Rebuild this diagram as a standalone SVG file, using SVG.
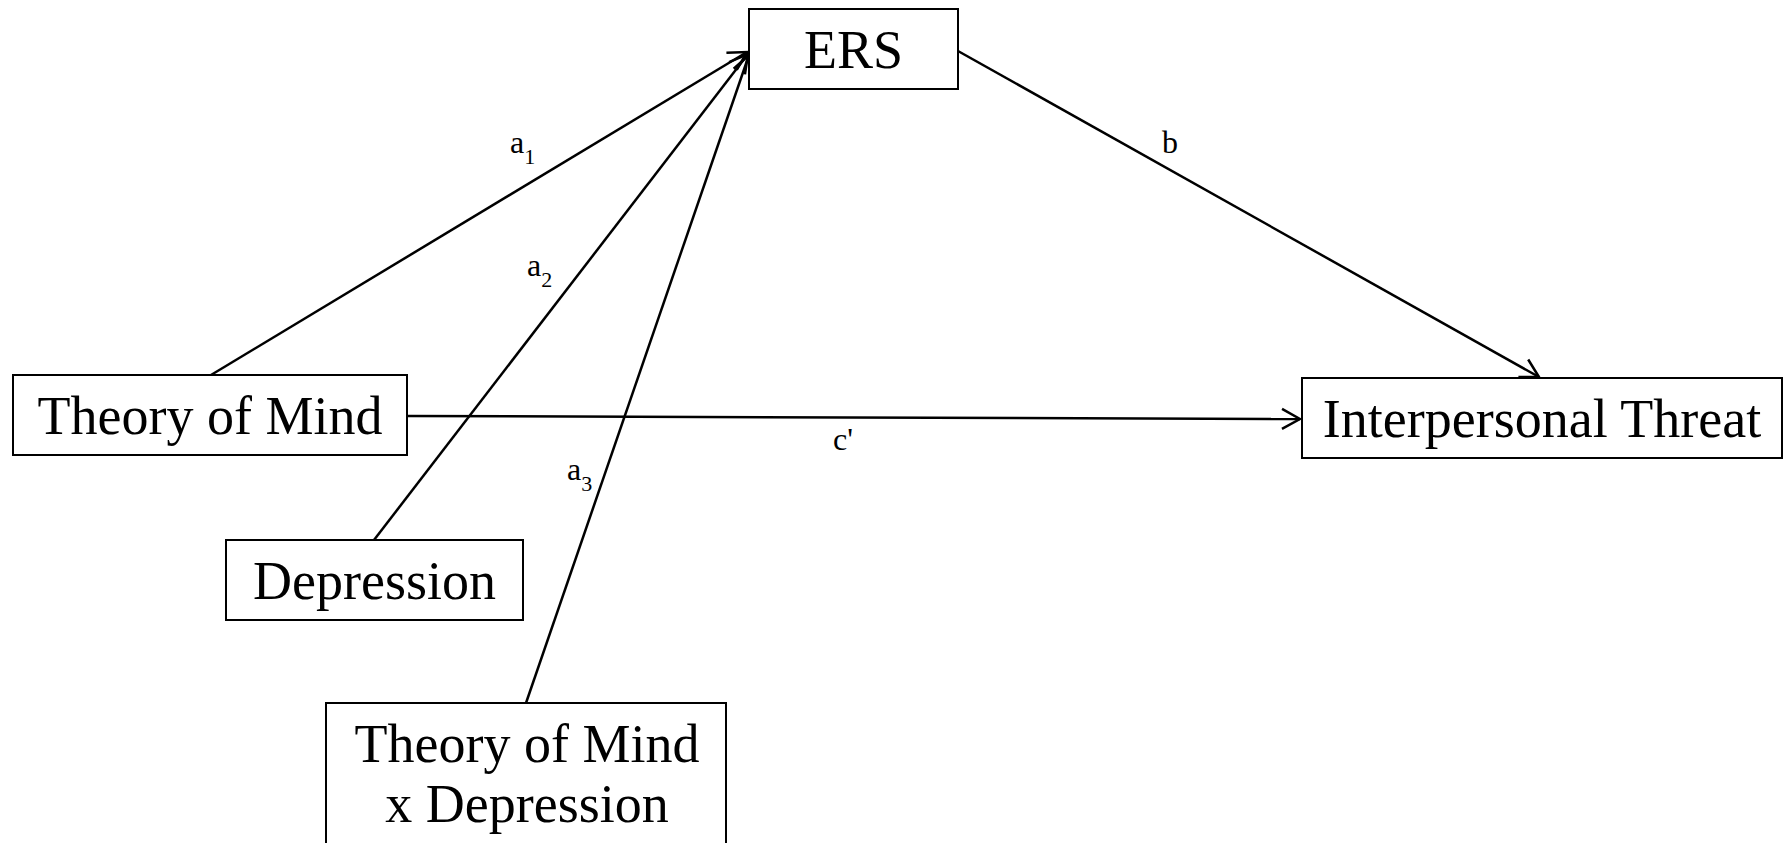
<svg xmlns="http://www.w3.org/2000/svg" width="1783" height="843" viewBox="0 0 1783 843">
<style>
.box{fill:#fff;stroke:#000;stroke-width:2}
.nt{font-family:"Liberation Serif","Times New Roman",serif;font-size:54px;fill:#000;text-anchor:middle}
.lb{font-family:"Liberation Serif","Times New Roman",serif;font-size:32px;fill:#000}
.sub{font-size:22px}
.ln{fill:none;stroke:#000;stroke-width:2.5}
</style>
<defs>
<marker id="arr" markerUnits="userSpaceOnUse" markerWidth="24" markerHeight="24" viewBox="-22 -12 24 24" refX="0" refY="0" orient="auto">
<path d="M-18,-10 L0,0 L-18,10" fill="none" stroke="#000" stroke-width="2.5"/>
</marker>
</defs>
<rect width="1783" height="843" fill="#fff"/>
<g id="connectors">
<line class="ln" x1="211" y1="375" x2="747" y2="52" marker-end="url(#arr)"/>
<line class="ln" x1="374" y1="540" x2="748" y2="54" marker-end="url(#arr)"/>
<line class="ln" x1="526" y1="703" x2="749" y2="55" marker-end="url(#arr)"/>
<line class="ln" x1="958" y1="51" x2="1539" y2="377" marker-end="url(#arr)"/>
<line class="ln" x1="407" y1="416" x2="1300" y2="419" marker-end="url(#arr)"/>
<text class="lb" x="510" y="153">a<tspan class="sub" dy="11">1</tspan></text>
<text class="lb" x="527" y="276">a<tspan class="sub" dy="11">2</tspan></text>
<text class="lb" x="567" y="480">a<tspan class="sub" dy="11">3</tspan></text>
<text class="lb" x="1162" y="153">b</text>
<text class="lb" x="833" y="450">c'</text>
</g>
<g id="ers">
<rect class="box" x="749" y="9" width="209" height="80"/>
<text class="nt" x="853.5" y="68">ERS</text>
</g>
<g id="tom">
<rect class="box" x="13" y="375" width="394" height="80"/>
<text class="nt" x="210" y="434">Theory of Mind</text>
</g>
<g id="threat">
<rect class="box" x="1302" y="378" width="480" height="80"/>
<text class="nt" x="1542" y="437">Interpersonal Threat</text>
</g>
<g id="depression">
<rect class="box" x="226" y="540" width="297" height="80"/>
<text class="nt" x="374.5" y="599">Depression</text>
</g>
<g id="interaction">
<rect class="box" x="326" y="703" width="400" height="160"/>
<text class="nt" x="527" y="762">Theory of Mind</text>
<text class="nt" x="527" y="822">x Depression</text>
</g>
</svg>
